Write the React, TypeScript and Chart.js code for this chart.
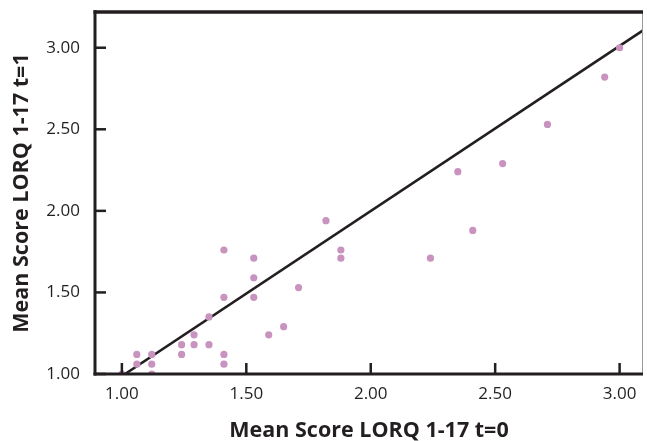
import React, { useEffect, useRef } from "react";
import { Chart, registerables } from "chart.js";

Chart.register(...registerables);

// Mean Score LORQ 1-17 at t=0 (x) and t=1 (y)
const scoreT0 = [1.0, 1.06, 1.06, 1.12, 1.12, 1.12, 1.24, 1.24, 1.29, 1.29, 1.35, 1.35, 1.41, 1.41, 1.41, 1.41, 1.53, 1.53, 1.53, 1.59, 1.65, 1.71, 1.82, 1.88, 1.88, 2.24, 2.35, 2.41, 2.53, 2.71, 2.94, 3.0];
const scoreT1 = [1.0, 1.12, 1.06, 1.12, 1.06, 1.0, 1.18, 1.12, 1.18, 1.24, 1.18, 1.35, 1.12, 1.06, 1.47, 1.76, 1.71, 1.59, 1.47, 1.24, 1.29, 1.53, 1.94, 1.76, 1.71, 1.71, 2.24, 1.88, 2.29, 2.53, 2.82, 3.0];

// fitted line y = slope * x + intercept
const fitSlope = 1.012;
const fitIntercept = -0.025;

const xTicks = [1.0, 1.5, 2.0, 2.5, 3.0];
const yTicks = [1.0, 1.5, 2.0, 2.5, 3.0];

const xMin = 0.892;
const xMax = 3.094;
const yMin = 1.0;
const yMax = 3.219;

const xTitle = "Mean Score LORQ 1-17 t=0";
const yTitle = "Mean Score LORQ 1-17 t=1";

const INK = "#231f20";

const framePlugin = {
  id: "frame",
  afterDraw(chart: any) {
    const ctx = chart.ctx;
    const area = chart.chartArea;
    const left = area.left;
    const right = area.right;
    const top = area.top;
    const bottom = area.bottom;
    const xs = chart.scales["x"];
    const ys = chart.scales["y"];
    ctx.save();
    ctx.fillStyle = "#9a9a9a";
    ctx.fillRect(right - 1, top, 1, bottom - top);

    ctx.fillStyle = INK;
    ctx.fillRect(left - 1.5, top - 1.75, right - left + 1.5, 3.5);
    ctx.fillRect(left - 1.5, top - 1.75, 3, bottom - top + 3.25);
    ctx.fillRect(left - 1.5, bottom - 1.5, right - left + 1.5, 3);

    for (let i = 0; i < xTicks.length; i++) {
      const px = xs.getPixelForValue(xTicks[i]);
      ctx.fillRect(px - 1.25, bottom - 11, 2.5, 11);
    }
    for (let i = 0; i < yTicks.length; i++) {
      const py = ys.getPixelForValue(yTicks[i]);
      ctx.fillRect(left, py - 1.25, 11, 2.5);
    }
    ctx.restore();
  },
};

export default function App() {
  const canvasRef = useRef<HTMLCanvasElement | null>(null);

  useEffect(() => {
    const canvas = canvasRef.current;
    if (!canvas) return;

    const points = scoreT0.map((x, i) => ({ x, y: scoreT1[i] }));
    const fitLine = [
      { x: xMin, y: fitSlope * xMin + fitIntercept },
      { x: xMax, y: fitSlope * xMax + fitIntercept },
    ];

    const chart = new Chart(canvas, {
      type: "scatter",
      data: {
        datasets: [
          {
            type: "line",
            data: fitLine,
            borderColor: INK,
            borderWidth: 2.5,
            pointRadius: 0,
            fill: false,
            order: 2,
          } as any,
          {
            type: "scatter",
            data: points,
            backgroundColor: "#c993c0",
            borderWidth: 0,
            pointRadius: 3.6,
            order: 1,
          } as any,
        ],
      },
      options: {
        animation: false,
        responsive: false,
        layout: { padding: { left: 0, top: 12, right: 2, bottom: 0 } },
        plugins: {
          legend: { display: false },
          tooltip: { enabled: false },
        },
        scales: {
          x: {
            type: "linear",
            min: xMin,
            max: xMax,
            grid: { display: false, drawTicks: false },
            border: { display: false },
            afterBuildTicks: (scale: any) => {
              scale.ticks = xTicks.map((v) => ({ value: v }));
            },
            afterFit: (scale: any) => {
              scale.height = 67;
              scale.paddingLeft = 0;
              scale.paddingRight = 0;
            },
            ticks: {
              padding: 10,
              color: INK,
              font: { family: "'Open Sans', sans-serif", size: 17 },
              callback: (v: any) => Number(v).toFixed(2),
            },
            title: {
              display: true,
              text: xTitle,
              color: INK,
              padding: { top: 0, bottom: -3 },
              font: { family: "'Open Sans', sans-serif", size: 21.5, weight: "bold" },
            },
          },
          y: {
            type: "linear",
            min: yMin,
            max: yMax,
            grid: { display: false },
            border: { display: false },
            afterBuildTicks: (scale: any) => {
              scale.ticks = yTicks.map((v) => ({ value: v }));
            },
            afterFit: (scale: any) => {
              scale.width = 95;
              scale.paddingTop = 0;
              scale.paddingBottom = 0;
            },
            ticks: {
              padding: 7,
              color: INK,
              font: { family: "'Open Sans', sans-serif", size: 17 },
              callback: (v: any) => Number(v).toFixed(2),
            },
            title: {
              display: true,
              text: yTitle,
              color: INK,
              padding: { top: 9, bottom: 0 },
              font: { family: "'Open Sans', sans-serif", size: 21.5, weight: "bold" },
            },
          },
        },
      },
      plugins: [framePlugin],
    });

    return () => chart.destroy();
  }, []);

  return (
    <div style={{ position: "fixed", left: 0, top: 0, width: 647, height: 441, background: "#fff" }}>
      <canvas ref={canvasRef} width={647} height={441} style={{ display: "block" }} />
    </div>
  );
}
